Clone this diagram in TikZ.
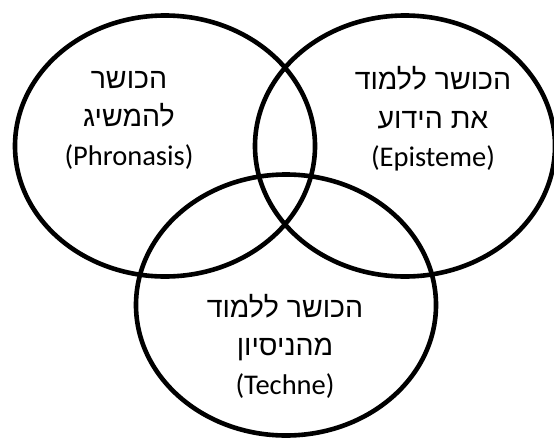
\documentclass[tikz,border=0pt]{standalone}
\usepackage{fontspec}
\setmainfont{Carlito}
\newfontfamily\hebfont[Script=Hebrew]{Liberation Sans}
\TeXXeTstate=1
\usetikzlibrary{shapes.geometric}
\tikzset{
  venn/.style={draw=black, line width=4.6pt, ellipse, inner sep=0pt, outer sep=0pt,
    minimum width=300pt, minimum height=261pt},
  lbl/.style={align=center, inner sep=0pt, text=black,
    font=\fontsize{28.5}{38.5}\selectfont}
}
\newcommand{\heb}[1]{{\hebfont\beginR #1\endR}}
\begin{document}
\begin{tikzpicture}[x=1pt,y=-1pt]
\useasboundingbox (0,0) rectangle (554,437);
\fill[white] (0,0) rectangle (554,437);
\node[venn] (L) at (165,146) {};
\node[venn] (R) at (405,146) {};
\node[venn] (B) at (286,305) {};
\node[lbl] (tL) at (129,120) {\heb{הכושר}\\\heb{להמשיג}\\(Phronasis)};
\node[lbl] (tR) at (433,119) {\heb{הכושר ללמוד}\\\heb{את הידוע}\\(Episteme)};
\node[lbl] (tB) at (285,346) {\heb{הכושר ללמוד}\\\heb{מהניסיון}\\(Techne)};
\end{tikzpicture}
\end{document}
